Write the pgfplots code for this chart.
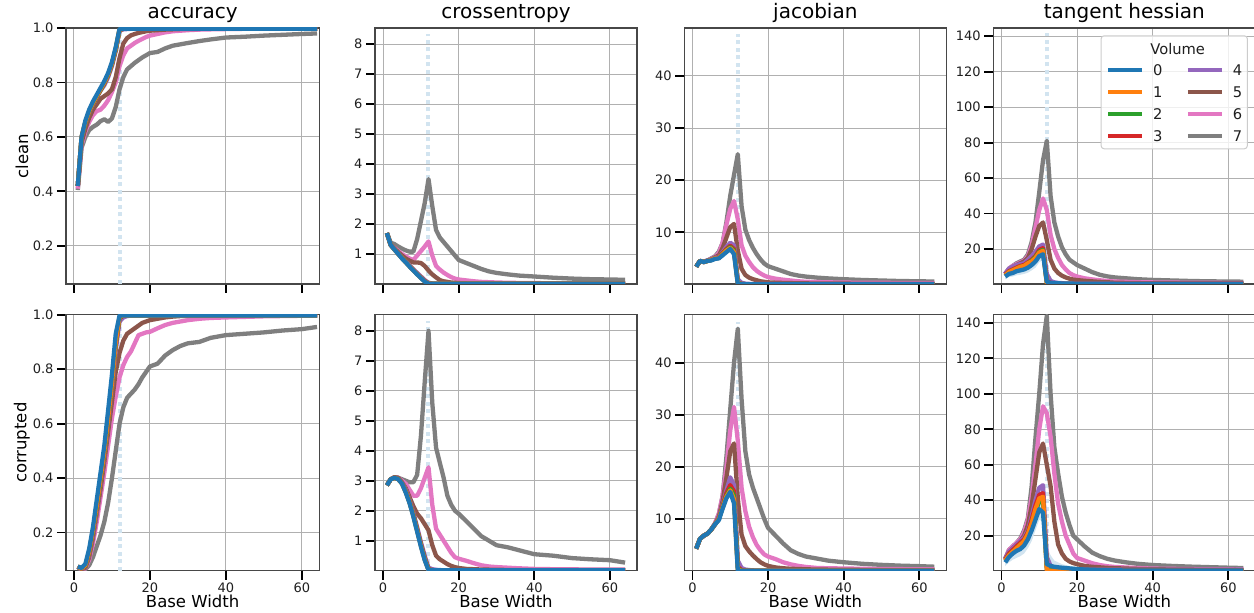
\documentclass[border=0pt]{standalone}
\usepackage{fontspec}
\setmainfont{DejaVu Sans}
\usepackage{pgfplots}
\usepackage{pgfplotstable}
\pgfplotsset{compat=1.18}

\definecolor{c0}{RGB}{31,119,180}
\definecolor{c1}{RGB}{255,127,14}
\definecolor{c2}{RGB}{44,160,44}
\definecolor{c3}{RGB}{214,39,40}
\definecolor{c4}{RGB}{148,103,189}
\definecolor{c5}{RGB}{140,86,75}
\definecolor{c6}{RGB}{227,119,194}
\definecolor{c7}{RGB}{127,127,127}
\definecolor{vlc}{RGB}{210,228,240}
\definecolor{gridc}{RGB}{176,176,176}
\definecolor{legc}{RGB}{204,204,204}
\definecolor{bandc}{RGB}{210,228,240}

% accuracy, clean
\pgfplotstableread{
x  v0    v1    v2    v3    v4    v5    v6    v7
1  0.42  0.42  0.42  0.42  0.42  0.42  0.41  0.405
2  0.60  0.60  0.598 0.597 0.595 0.58  0.57  0.56
3  0.66  0.655 0.653 0.652 0.65  0.63  0.62  0.60
4  0.70  0.695 0.693 0.692 0.69  0.67  0.655 0.625
5  0.73  0.725 0.723 0.722 0.72  0.70  0.68  0.637
6  0.755 0.75  0.748 0.747 0.745 0.72  0.695 0.645
7  0.78  0.775 0.773 0.772 0.77  0.74  0.70  0.658
8  0.805 0.80  0.798 0.797 0.79  0.75  0.715 0.665
9  0.835 0.83  0.828 0.827 0.82  0.76  0.735 0.655
10 0.875 0.87  0.868 0.867 0.86  0.775 0.765 0.668
11 0.93  0.925 0.922 0.92  0.915 0.82  0.80  0.71
12 0.997 0.995 0.994 0.993 0.99  0.89  0.86  0.775
13 0.997 0.997 0.997 0.997 0.995 0.943 0.90  0.82
14 0.997 0.997 0.997 0.997 0.996 0.963 0.925 0.848
15 0.997 0.997 0.997 0.997 0.997 0.973 0.935 0.86
16 0.997 0.997 0.997 0.997 0.997 0.978 0.945 0.872
17 0.997 0.997 0.997 0.997 0.997 0.982 0.953 0.882
18 0.997 0.997 0.997 0.997 0.997 0.985 0.96  0.892
19 0.997 0.997 0.997 0.997 0.997 0.988 0.967 0.90
20 0.997 0.997 0.997 0.997 0.997 0.99  0.972 0.908
22 0.997 0.997 0.997 0.997 0.997 0.992 0.978 0.912
24 0.997 0.997 0.997 0.997 0.997 0.994 0.984 0.925
26 0.997 0.997 0.997 0.997 0.997 0.995 0.988 0.935
28 0.997 0.997 0.997 0.997 0.997 0.996 0.99  0.94
30 0.997 0.997 0.997 0.997 0.997 0.996 0.992 0.945
33 0.997 0.997 0.997 0.997 0.997 0.997 0.994 0.952
36 0.997 0.997 0.997 0.997 0.997 0.997 0.995 0.958
40 0.997 0.997 0.997 0.997 0.997 0.997 0.996 0.965
45 0.997 0.997 0.997 0.997 0.997 0.997 0.997 0.968
50 0.997 0.997 0.997 0.997 0.997 0.997 0.997 0.972
55 0.997 0.997 0.997 0.997 0.997 0.997 0.997 0.975
60 0.997 0.997 0.997 0.997 0.997 0.997 0.997 0.978
64 0.997 0.997 0.997 0.997 0.997 0.997 0.997 0.98
}\tabA

% accuracy, corrupted
\pgfplotstableread{
x  v0    v1    v2    v3    v4    v5    v6    v7
1  0.075 0.075 0.075 0.075 0.075 0.075 0.075 0.07
2  0.07  0.068 0.068 0.067 0.066 0.065 0.065 0.065
3  0.085 0.08  0.078 0.077 0.075 0.07  0.068 0.065
4  0.14  0.13  0.128 0.125 0.12  0.11  0.10  0.08
5  0.22  0.21  0.205 0.20  0.19  0.18  0.16  0.11
6  0.32  0.30  0.295 0.29  0.28  0.27  0.24  0.15
7  0.42  0.40  0.395 0.39  0.38  0.36  0.33  0.19
8  0.52  0.50  0.495 0.49  0.48  0.46  0.42  0.24
9  0.65  0.62  0.615 0.61  0.60  0.57  0.52  0.31
10 0.78  0.75  0.745 0.74  0.73  0.68  0.62  0.40
11 0.93  0.90  0.895 0.89  0.87  0.79  0.70  0.50
12 0.997 0.993 0.99  0.988 0.975 0.86  0.77  0.60
13 0.997 0.997 0.997 0.996 0.99  0.905 0.815 0.66
14 0.997 0.997 0.997 0.997 0.995 0.93  0.845 0.695
15 0.997 0.997 0.997 0.997 0.997 0.94  0.865 0.71
16 0.997 0.997 0.997 0.997 0.997 0.95  0.895 0.725
17 0.997 0.997 0.997 0.997 0.997 0.96  0.925 0.745
18 0.997 0.997 0.997 0.997 0.997 0.97  0.93  0.77
19 0.997 0.997 0.997 0.997 0.997 0.975 0.935 0.79
20 0.997 0.997 0.997 0.997 0.997 0.98  0.937 0.81
22 0.997 0.997 0.997 0.997 0.997 0.985 0.95  0.82
24 0.997 0.997 0.997 0.997 0.997 0.99  0.962 0.85
26 0.997 0.997 0.997 0.997 0.997 0.993 0.97  0.87
28 0.997 0.997 0.997 0.997 0.997 0.995 0.975 0.885
30 0.997 0.997 0.997 0.997 0.997 0.996 0.98  0.895
33 0.997 0.997 0.997 0.997 0.997 0.997 0.985 0.90
36 0.997 0.997 0.997 0.997 0.997 0.997 0.988 0.915
40 0.997 0.997 0.997 0.997 0.997 0.997 0.99  0.925
45 0.997 0.997 0.997 0.997 0.997 0.997 0.992 0.93
50 0.997 0.997 0.997 0.997 0.997 0.997 0.994 0.935
55 0.997 0.997 0.997 0.997 0.997 0.997 0.995 0.942
60 0.997 0.997 0.997 0.997 0.997 0.997 0.996 0.947
64 0.997 0.997 0.997 0.997 0.997 0.997 0.996 0.955
}\tabB

% crossentropy, clean
\pgfplotstableread{
x  v0    v1    v2    v3    v4    v5    v6    v7
1  1.7   1.7   1.7   1.7   1.7   1.7   1.7   1.7
2  1.3   1.3   1.3   1.3   1.3   1.3   1.3   1.38
3  1.15  1.15  1.15  1.16  1.16  1.18  1.2   1.33
4  1.0   1.0   1.01  1.01  1.02  1.06  1.1   1.25
5  0.85  0.86  0.86  0.87  0.88  0.95  1.0   1.18
6  0.72  0.72  0.73  0.73  0.75  0.85  0.92  1.12
7  0.58  0.59  0.59  0.60  0.62  0.78  0.85  1.08
8  0.45  0.46  0.46  0.47  0.49  0.72  0.80  1.08
9  0.32  0.33  0.33  0.34  0.37  0.72  0.95  1.5
10 0.20  0.21  0.21  0.22  0.25  0.70  1.1   2.1
11 0.08  0.09  0.09  0.10  0.13  0.60  1.25  2.7
12 0.01  0.015 0.015 0.02  0.04  0.45  1.42  3.5
13 0.005 0.008 0.008 0.01  0.02  0.32  0.95  2.6
14 0.005 0.005 0.005 0.007 0.012 0.22  0.60  1.8
15 0.005 0.005 0.005 0.005 0.008 0.13  0.48  1.55
16 0.005 0.005 0.005 0.005 0.006 0.09  0.38  1.4
17 0.005 0.005 0.005 0.005 0.005 0.07  0.30  1.25
18 0.005 0.005 0.005 0.005 0.005 0.05  0.23  1.1
19 0.005 0.005 0.005 0.005 0.005 0.04  0.18  0.95
20 0.005 0.005 0.005 0.005 0.005 0.03  0.15  0.8
22 0.005 0.005 0.005 0.005 0.005 0.02  0.12  0.7
24 0.005 0.005 0.005 0.005 0.005 0.015 0.09  0.6
26 0.005 0.005 0.005 0.005 0.005 0.01  0.07  0.5
28 0.005 0.005 0.005 0.005 0.005 0.01  0.06  0.42
30 0.005 0.005 0.005 0.005 0.005 0.01  0.05  0.37
33 0.005 0.005 0.005 0.005 0.005 0.008 0.04  0.32
36 0.005 0.005 0.005 0.005 0.005 0.008 0.035 0.28
40 0.005 0.005 0.005 0.005 0.005 0.007 0.03  0.25
45 0.005 0.005 0.005 0.005 0.005 0.006 0.025 0.21
50 0.005 0.005 0.005 0.005 0.005 0.006 0.022 0.18
55 0.005 0.005 0.005 0.005 0.005 0.005 0.02  0.16
60 0.005 0.005 0.005 0.005 0.005 0.005 0.02  0.15
64 0.005 0.005 0.005 0.005 0.005 0.005 0.02  0.14
}\tabC

% crossentropy, corrupted
\pgfplotstableread{
x  v0    v1    v2    v3    v4    v5    v6    v7
1  2.85  2.85  2.85  2.85  2.85  2.85  2.85  2.85
2  3.05  3.05  3.05  3.05  3.05  3.05  3.05  3.05
3  3.1   3.1   3.1   3.1   3.1   3.12  3.12  3.12
4  3.05  3.05  3.06  3.06  3.07  3.1   3.1   3.1
5  2.9   2.9   2.91  2.92  2.95  2.95  3.0   3.05
6  2.6   2.62  2.63  2.65  2.7   2.75  2.9   3.0
7  2.25  2.27  2.28  2.3   2.35  2.45  2.7   2.95
8  1.8   1.83  1.85  1.87  1.93  2.15  2.5   2.95
9  1.3   1.33  1.35  1.38  1.45  1.9   2.5   3.2
10 0.8   0.83  0.85  0.88  0.95  1.75  2.75  4.5
11 0.35  0.37  0.39  0.42  0.5   1.55  3.1   6.3
12 0.02  0.03  0.04  0.05  0.1   1.35  3.45  8.0
13 0.01  0.015 0.02  0.02  0.05  0.85  2.2   5.6
14 0.01  0.01  0.01  0.015 0.03  0.5   1.4   4.1
15 0.01  0.01  0.01  0.01  0.02  0.38  1.2   3.6
16 0.01  0.01  0.01  0.01  0.015 0.3   1.0   3.1
17 0.01  0.01  0.01  0.01  0.01  0.22  0.8   2.5
18 0.01  0.01  0.01  0.01  0.01  0.16  0.6   2.2
19 0.01  0.01  0.01  0.01  0.01  0.12  0.45  2.0
20 0.01  0.01  0.01  0.01  0.01  0.09  0.4   1.9
22 0.01  0.01  0.01  0.01  0.01  0.06  0.33  1.65
24 0.01  0.01  0.01  0.01  0.01  0.05  0.25  1.4
26 0.01  0.01  0.01  0.01  0.01  0.04  0.18  1.15
28 0.01  0.01  0.01  0.01  0.01  0.035 0.14  1.0
30 0.01  0.01  0.01  0.01  0.01  0.03  0.12  0.85
33 0.01  0.01  0.01  0.01  0.01  0.025 0.1   0.78
36 0.01  0.01  0.01  0.01  0.01  0.025 0.08  0.68
40 0.01  0.01  0.01  0.01  0.01  0.025 0.06  0.55
45 0.01  0.01  0.01  0.01  0.01  0.02  0.05  0.5
50 0.01  0.01  0.01  0.01  0.01  0.02  0.045 0.42
55 0.01  0.01  0.01  0.01  0.01  0.02  0.04  0.38
60 0.01  0.01  0.01  0.01  0.01  0.02  0.04  0.35
64 0.01  0.01  0.01  0.01  0.01  0.02  0.04  0.27
}\tabD

% jacobian, clean
\pgfplotstableread{
x  v0   v1   v2   v3   v4   v5   v6   v7
1  3.4  3.4  3.4  3.4  3.4  3.4  3.4  3.4
2  4.5  4.5  4.5  4.5  4.5  4.5  4.5  4.5
3  4.3  4.3  4.3  4.3  4.4  4.3  4.3  4.3
4  4.5  4.5  4.5  4.5  4.6  4.6  4.6  4.6
5  4.6  4.7  4.7  4.7  4.8  4.8  4.9  5.0
6  4.9  5.0  5.0  5.0  5.1  5.2  5.3  5.4
7  5.0  5.1  5.1  5.2  5.3  5.6  6.0  6.3
8  5.6  5.8  5.9  6.0  6.2  7.0  8.0  8.0
9  6.2  6.5  6.6  6.8  7.2  9.0  11.5 12.0
10 6.8  7.0  7.2  7.4  8.0  11.0 14.5 17.0
11 5.8  6.2  6.5  6.8  7.5  11.6 16.0 21.0
12 0.1  0.2  0.3  0.4  1.0  6.5  12.5 25.0
13 0.05 0.05 0.08 0.1  0.3  3.0  7.5  15.0
14 0.05 0.05 0.05 0.05 0.15 1.8  5.5  10.5
15 0.05 0.05 0.05 0.05 0.1  1.3  4.3  8.5
16 0.05 0.05 0.05 0.05 0.08 1.0  3.3  7.0
17 0.05 0.05 0.05 0.05 0.08 0.8  2.6  5.8
18 0.05 0.05 0.05 0.05 0.08 0.6  2.1  4.8
19 0.05 0.05 0.05 0.05 0.08 0.5  1.7  4.0
20 0.05 0.05 0.05 0.05 0.08 0.4  1.4  3.5
22 0.05 0.05 0.05 0.05 0.08 0.33 1.1  3.0
24 0.05 0.05 0.05 0.05 0.08 0.28 0.9  2.5
26 0.05 0.05 0.05 0.05 0.08 0.25 0.75 2.0
28 0.05 0.05 0.05 0.05 0.08 0.22 0.6  1.7
30 0.05 0.05 0.05 0.05 0.08 0.2  0.5  1.5
33 0.05 0.05 0.05 0.05 0.08 0.18 0.45 1.3
36 0.05 0.05 0.05 0.05 0.08 0.16 0.4  1.15
40 0.05 0.05 0.05 0.05 0.08 0.15 0.35 1.0
45 0.05 0.05 0.05 0.05 0.08 0.14 0.32 0.85
50 0.05 0.05 0.05 0.05 0.08 0.13 0.3  0.75
55 0.05 0.05 0.05 0.05 0.08 0.12 0.28 0.65
60 0.05 0.05 0.05 0.05 0.08 0.11 0.26 0.6
64 0.05 0.05 0.05 0.05 0.08 0.1  0.25 0.55
}\tabE

% jacobian, corrupted
\pgfplotstableread{
x  v0   v1   v2   v3   v4   v5   v6   v7
1  4.3  4.3  4.3  4.3  4.3  4.3  4.3  4.3
2  6.2  6.2  6.2  6.2  6.2  6.2  6.2  6.2
3  6.8  6.8  6.8  6.8  6.8  6.8  6.8  6.8
4  7.2  7.2  7.2  7.2  7.2  7.2  7.2  7.2
5  8.0  8.0  8.0  8.0  8.0  8.0  8.0  8.0
6  9.0  9.0  9.0  9.0  9.0  9.0  9.2  9.2
7  9.8  10.0 10.0 10.1 10.3 10.5 11.0 11.0
8  12.0 12.2 12.3 12.5 12.8 13.5 14.5 14.5
9  14.0 14.3 14.5 15.0 15.5 18.0 20.0 22.0
10 15.2 15.5 15.8 16.5 18.0 23.0 27.0 31.0
11 13.0 13.8 14.5 15.3 16.5 24.5 31.5 40.0
12 0.1  0.3  0.5  0.8  2.0  14.0 25.0 46.5
13 0.05 0.05 0.1  0.2  0.6  7.0  16.0 33.0
14 0.05 0.05 0.05 0.1  0.3  4.8  11.5 23.0
15 0.05 0.05 0.05 0.05 0.2  3.8  8.5  18.5
16 0.05 0.05 0.05 0.05 0.15 3.0  6.5  16.0
17 0.05 0.05 0.05 0.05 0.1  2.3  5.0  14.0
18 0.05 0.05 0.05 0.05 0.1  1.7  4.0  12.0
19 0.05 0.05 0.05 0.05 0.1  1.3  3.2  10.0
20 0.05 0.05 0.05 0.05 0.1  1.0  2.8  8.3
22 0.05 0.05 0.05 0.05 0.1  0.7  2.3  6.8
24 0.05 0.05 0.05 0.05 0.1  0.55 1.7  5.3
26 0.05 0.05 0.05 0.05 0.1  0.45 1.3  4.0
28 0.05 0.05 0.05 0.05 0.1  0.4  1.0  3.3
30 0.05 0.05 0.05 0.05 0.1  0.35 0.8  2.8
33 0.05 0.05 0.05 0.05 0.1  0.3  0.6  2.4
36 0.05 0.05 0.05 0.05 0.1  0.28 0.55 2.0
40 0.05 0.05 0.05 0.05 0.1  0.25 0.5  1.7
45 0.05 0.05 0.05 0.05 0.1  0.23 0.45 1.4
50 0.05 0.05 0.05 0.05 0.1  0.22 0.4  1.2
55 0.05 0.05 0.05 0.05 0.1  0.21 0.38 1.05
60 0.05 0.05 0.05 0.05 0.1  0.2  0.36 0.95
64 0.05 0.05 0.05 0.05 0.1  0.2  0.35 0.85
}\tabF

% tangent hessian, clean
\pgfplotstableread{
x  v0   v1   v2   v3   v4   v5   v6   v7
1  4.5  5.0  5.0  5.5  6.0  6.0  6.0  6.0
2  6.0  7.0  7.0  7.5  9.0  8.5  9.0  9.0
3  6.5  8.0  8.0  8.5  10.0 10.0 10.5 10.5
4  7.5  9.0  9.0  9.5  11.0 11.0 11.5 12.0
5  8.0  10.0 10.0 10.5 11.5 12.0 12.5 13.0
6  8.5  10.5 10.5 11.0 12.0 13.0 13.5 14.0
7  9.5  12.0 12.0 12.5 14.0 15.0 16.0 17.0
8  11.0 13.0 13.5 14.0 16.0 20.0 22.0 24.0
9  13.0 15.0 15.5 16.0 18.5 27.0 32.0 35.0
10 16.0 18.0 18.5 19.5 21.5 33.0 42.0 52.0
11 17.0 19.0 19.5 20.5 22.5 35.0 48.5 70.0
12 1.5  0.5  1.0  2.0  6.0  25.0 42.0 81.0
13 1.0  0.3  0.5  1.0  2.0  14.0 28.0 50.0
14 0.8  0.2  0.3  0.6  1.2  9.0  20.0 35.0
15 0.7  0.2  0.3  0.4  0.9  6.5  15.0 27.0
16 0.6  0.2  0.3  0.4  0.8  5.0  11.0 21.0
17 0.55 0.2  0.3  0.4  0.5  4.0  8.5  17.0
18 0.5  0.2  0.3  0.4  0.5  3.3  6.5  14.0
19 0.5  0.2  0.3  0.4  0.5  2.8  5.3  12.5
20 0.45 0.2  0.3  0.4  0.5  2.5  4.5  11.0
22 0.4  0.2  0.3  0.4  0.5  2.1  3.5  9.0
24 0.4  0.2  0.3  0.4  0.5  1.8  2.9  7.0
26 0.4  0.2  0.3  0.4  0.5  1.5  2.4  5.5
28 0.4  0.2  0.3  0.4  0.5  1.3  2.0  4.6
30 0.35 0.2  0.3  0.4  0.5  1.0  1.7  4.0
33 0.35 0.2  0.3  0.4  0.5  0.9  1.5  3.5
36 0.35 0.2  0.3  0.4  0.5  0.8  1.3  3.0
40 0.3  0.2  0.3  0.4  0.5  0.7  1.2  2.6
45 0.3  0.2  0.3  0.4  0.5  0.65 1.1  2.3
50 0.3  0.2  0.3  0.4  0.5  0.6  1.0  2.0
55 0.3  0.2  0.3  0.4  0.5  0.55 0.95 1.8
60 0.3  0.2  0.3  0.4  0.5  0.5  0.9  1.7
64 0.3  0.2  0.3  0.4  0.5  0.5  0.9  1.6
}\tabG

% tangent hessian, corrupted
\pgfplotstableread{
x  v0   v1   v2   v3   v4   v5   v6   v7
1  5.0  6.0  6.0  6.5  7.0  7.0  7.0  7.0
2  8.0  9.0  9.0  10.0 11.0 11.0 12.0 12.0
3  10.0 11.0 11.0 12.0 13.0 13.0 14.0 14.0
4  11.5 13.0 13.0 14.0 15.0 15.0 16.0 16.0
5  12.5 15.0 15.0 16.0 17.0 17.0 18.0 18.5
6  14.5 17.0 17.0 18.0 19.0 20.0 22.0 23.0
7  18.0 21.0 21.0 22.0 23.0 26.0 29.0 30.0
8  23.0 27.0 27.0 29.0 31.0 37.0 42.0 48.0
9  29.0 35.0 34.0 37.0 40.0 52.0 60.0 75.0
10 35.0 41.0 39.0 43.0 47.0 67.0 80.0 100.0
11 33.0 42.0 40.0 44.0 48.5 72.0 93.0 128.0
12 4.0  0.5  1.0  2.0  8.0  60.0 89.0 144.0
13 3.0  0.3  0.5  1.0  3.0  48.0 76.0 100.0
14 2.5  0.2  0.3  0.5  2.0  28.0 55.0 70.0
15 2.2  0.2  0.3  0.5  1.5  15.0 38.0 55.0
16 2.0  0.2  0.3  0.5  1.2  10.0 28.0 42.0
17 1.8  0.2  0.3  0.5  0.8  7.0  20.0 33.0
18 1.6  0.2  0.3  0.5  0.8  5.5  15.0 26.0
19 1.4  0.2  0.3  0.5  0.8  4.6  10.0 20.0
20 1.2  0.2  0.3  0.5  0.8  4.0  7.5  18.0
22 1.0  0.2  0.3  0.5  0.8  3.0  6.0  14.0
24 0.8  0.2  0.3  0.5  0.8  2.5  4.5  10.5
26 0.7  0.2  0.3  0.5  0.8  2.2  3.5  8.5
28 0.6  0.2  0.3  0.5  0.8  1.9  2.8  7.0
30 0.5  0.2  0.3  0.5  0.8  1.7  2.4  6.0
33 0.45 0.2  0.3  0.5  0.8  1.5  2.1  5.0
36 0.45 0.2  0.3  0.5  0.8  1.3  1.8  4.2
40 0.4  0.2  0.3  0.5  0.8  1.1  1.5  3.5
45 0.4  0.2  0.3  0.5  0.8  1.0  1.35 3.0
50 0.4  0.2  0.3  0.5  0.8  0.9  1.2  2.6
55 0.35 0.2  0.3  0.5  0.8  0.85 1.1  2.3
60 0.35 0.2  0.3  0.5  0.8  0.8  1.05 2.0
64 0.35 0.2  0.3  0.5  0.8  0.7  1.0  1.8
}\tabH

% spread of volume 0, tangent hessian, clean: outline (upper edge, then lower edge back)
\pgfplotstableread{
x  y
1  6.0
2  7.8
3  8.5
4  9.8
5  10.5
6  11.0
7  12.3
8  14.0
9  16.5
10 19.5
11 20.0
12 5.0
13 3.0
15 2.0
18 1.5
18 0.0
12 0.0
11 14.0
10 12.5
9  9.5
8  8.0
7  6.7
6  6.0
5  5.5
4  5.2
3  4.5
2  4.2
1  3.0
}\bandG

% spread of volume 0, tangent hessian, corrupted
\pgfplotstableread{
x  y
1  7.0
2  11.0
3  13.5
4  15.5
5  17.0
6  19.0
7  23.0
8  29.0
9  35.0
10 40.0
11 38.0
12 14.0
13 9.0
14 6.0
15 5.0
16 4.0
18 3.0
20 2.5
24 1.8
30 1.2
30 0.0
12 0.0
11 28.0
10 29.0
9  23.0
8  17.0
7  13.0
6  10.0
5  8.5
4  7.5
3  6.5
2  5.0
1  3.0
}\bandH

\pgfplotsset{
  s0/.style={c0, line width=4.3pt, line join=round, forget plot},
  s1/.style={c1, line width=4.3pt, line join=round, forget plot},
  s2/.style={c2, line width=4.3pt, line join=round, forget plot},
  s3/.style={c3, line width=4.3pt, line join=round, forget plot},
  s4/.style={c4, line width=4.3pt, line join=round, forget plot},
  s5/.style={c5, line width=4.3pt, line join=round, forget plot},
  s6/.style={c6, line width=4.3pt, line join=round, forget plot},
  s7/.style={c7, line width=4.3pt, line join=round, forget plot},
  vl/.style={vlc, line width=4pt, dash pattern=on 4pt off 3.5pt, forget plot},
  base/.style={
    scale only axis, anchor=south west,
    height=256pt, width=262pt,
    xmin=-2.15, xmax=67.15,
    xtick={0,20,40,60},
    tick align=outside, tick pos=left,
    major tick length=9pt,
    tick style={black, line width=1.8pt},
    grid=major,
    major grid style={draw=gridc, line width=1pt},
    axis line style={draw=black!72, line width=1.2pt},
    /pgf/number format/assume math mode=true,
    ticklabel style={font=\fontsize{13}{15}\selectfont, text=black!88},
    title style={font=\fontsize{20}{24}\selectfont, at={(axis description cs:0.5,1)}, anchor=base, yshift=3.5pt},
    xlabel style={font=\fontsize{16.5}{20}\selectfont, at={(axis description cs:0.5,0)}, anchor=base, yshift=-37.3pt},
    ylabel style={font=\fontsize{16.5}{20}\selectfont, at={(axis description cs:-0.174,0.5)}, anchor=center},
  },
  toprow/.style={xticklabels={}},
  botrow/.style={xlabel={Base Width}},
  colA/.style={ymin=0.06, ymax=1.0, ytick={0.2,0.4,0.6,0.8,1.0},
     yticklabel style={/pgf/number format/.cd, fixed, fixed zerofill, precision=1}},
  colB/.style={ymin=0, ymax=8.54, ytick={1,2,3,4,5,6,7,8}},
  colC/.style={ymin=0.08, ymax=49.2, ytick={10,20,30,40}},
  colD/.style={ymin=0.3, ymax=144.6, ytick={20,40,60,80,100,120,140}},
}

\newcommand{\drawall}[1]{%
  \addplot[s7] table[x=x,y=v7]{#1};
  \addplot[s6] table[x=x,y=v6]{#1};
  \addplot[s5] table[x=x,y=v5]{#1};
  \addplot[s4] table[x=x,y=v4]{#1};
  \addplot[s3] table[x=x,y=v3]{#1};
  \addplot[s2] table[x=x,y=v2]{#1};
  \addplot[s1] table[x=x,y=v1]{#1};
  \addplot[s0] table[x=x,y=v0]{#1};
}

\begin{document}
\begin{tikzpicture}
\useasboundingbox (0,0) rectangle (1254pt,613pt);

% ---------- row 1: clean ----------
\begin{axis}[base, toprow, colA, at={(66pt,329pt)}, width=253.3pt,
  xmin=-2.1, xmax=64.6, title={accuracy}, ylabel={clean}]
  \addplot[vl] coordinates {(12,0.06) (12,1.0)};
  \drawall{\tabA}
\end{axis}

\begin{axis}[base, toprow, colB, at={(375pt,329pt)}, title={crossentropy}]
  \addplot[vl] coordinates {(12,0) (12,8.35)};
  \drawall{\tabC}
\end{axis}

\begin{axis}[base, toprow, colC, at={(684.3pt,329pt)}, title={jacobian}]
  \addplot[vl] coordinates {(12,0) (12,48)};
  \drawall{\tabE}
\end{axis}

\begin{axis}[base, toprow, colD, at={(993.3pt,329pt)}, title={tangent hessian},
  legend columns=2,
  legend cell align=left,
  legend image code/.code={\draw[#1, line width=4pt, line cap=butt] (0pt,0pt) -- (34pt,0pt);},
  legend style={at={(axis description cs:0.9715,0.9715)}, anchor=north east,
    draw=legc, line width=1pt, rounded corners=3pt,
    fill=white, fill opacity=0.8, text opacity=1,
    font=\fontsize{14.7}{17}\selectfont, text=black!88,
    inner xsep=5pt, inner ysep=7.5pt, row sep=11pt,
    nodes={inner sep=0pt, text height=10.8pt, text depth=0pt},
    /tikz/every odd column/.append style={column sep=9pt},
    /tikz/every even column/.append style={column sep=23.5pt}},
  ]
  \addplot[vl] coordinates {(12,0.3) (12,142)};
  \addplot[fill=bandc, draw=none, forget plot] table[x=x,y=y]{\bandG} -- cycle;
  \drawall{\tabG}
  \addlegendimage{empty legend}\addlegendentry{\makebox[0pt][l]{\hspace{-3.3pt}Volume}}
  \addlegendimage{empty legend}\addlegendentry{\phantom{0}}
  \addlegendimage{c0}\addlegendentry{0}
  \addlegendimage{c4}\addlegendentry{4}
  \addlegendimage{c1}\addlegendentry{1}
  \addlegendimage{c5}\addlegendentry{5}
  \addlegendimage{c2}\addlegendentry{2}
  \addlegendimage{c6}\addlegendentry{6}
  \addlegendimage{c3}\addlegendentry{3}
  \addlegendimage{c7}\addlegendentry{7}
\end{axis}

% ---------- row 2: corrupted ----------
\begin{axis}[base, botrow, colA, at={(66pt,42.3pt)}, width=253.3pt,
  xmin=-2.1, xmax=64.6, ylabel={corrupted}]
  \addplot[vl] coordinates {(12,0.06) (12,1.0)};
  \drawall{\tabB}
\end{axis}

\begin{axis}[base, botrow, colB, at={(375pt,42.3pt)}]
  \addplot[vl] coordinates {(12,0) (12,8.32)};
  \drawall{\tabD}
\end{axis}

\begin{axis}[base, botrow, colC, at={(684.3pt,42.3pt)}]
  \addplot[vl] coordinates {(12,0) (12,47.8)};
  \drawall{\tabF}
\end{axis}

\begin{axis}[base, botrow, colD, at={(993.3pt,42.3pt)}]
  \addplot[vl] coordinates {(12,0.3) (12,143)};
  \addplot[fill=bandc, draw=none, forget plot] table[x=x,y=y]{\bandH} -- cycle;
  \drawall{\tabH}
\end{axis}
\end{tikzpicture}
\end{document}
